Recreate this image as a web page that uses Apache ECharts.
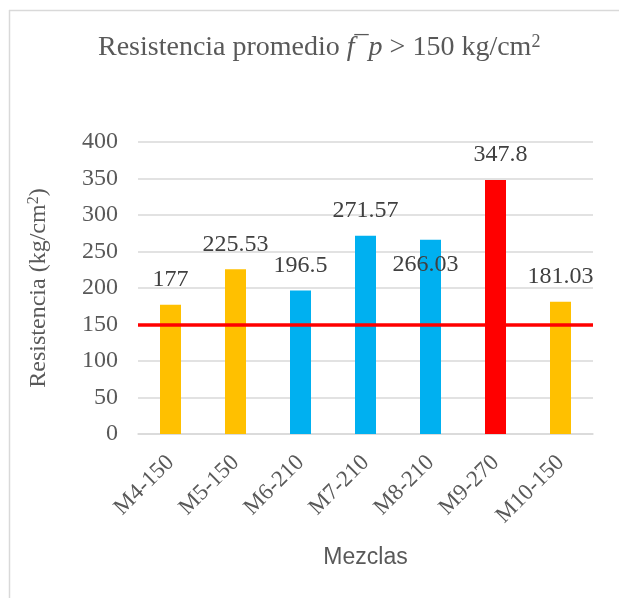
<!DOCTYPE html>
<html>
<head>
<meta charset="utf-8">
<script src="https://cdn.jsdelivr.net/npm/echarts@6/dist/echarts.min.js"></script>
<style>
html,body{margin:0;padding:0;background:#fff;}
#c{width:619px;height:598px;}
</style>
</head>
<body>
<div id="c"></div>
<script>
const categories = ['M4-150','M5-150','M6-210','M7-210','M8-210','M9-270','M10-150'];
const values = [177, 225.53, 196.5, 271.57, 266.03, 347.8, 181.03];
const barColors = ['#FFC000','#FFC000','#00B0F0','#00B0F0','#00B0F0','#FF0000','#FFC000'];
const yTicks = [0, 50, 100, 150, 200, 250, 300, 350, 400];
const threshold = 150;

const serif = '"Liberation Serif","Times New Roman",serif';
const chart = echarts.init(document.getElementById('c'), null, {renderer:'canvas'});

const data = values.map((v, i) => {
  const item = { value: v, itemStyle: { color: barColors[i] } };
  if (i === 4) {
    item.label = { position: 'insideTop', distance: 13, offset: [-5, 0] };
  }
  if (i === 5) {
    item.label = { offset: [5, 0] };
  }
  return item;
});

chart.setOption({
  animation: false,
  backgroundColor: '#fff',
  title: {
    text: 'Resistencia promedio {i|f}{m|¯}{i|p} > 150 kg/cm{s|2}',
    left: 93,
    top: 28,
    textStyle: {
      fontFamily: serif, fontSize: 28, fontWeight: 'normal', color: '#595959',
      rich: {
        i: { fontFamily: serif, fontSize: 28, fontStyle: 'italic', color: '#595959' },
        m: { fontFamily: serif, fontSize: 28, color: '#595959' },
        s: { fontFamily: serif, fontSize: 18, color: '#595959', verticalAlign: 'top', padding: [0,0,12,0] }
      }
    }
  },
  grid: { left: 138, right: 26, top: 142, bottom: 164 },
  xAxis: {
    type: 'category',
    data: categories,
    name: 'Mezclas',
    nameLocation: 'middle',
    nameGap: 112,
    nameTextStyle: { fontFamily: '"Liberation Sans",Arial,sans-serif', fontSize: 23, color: '#595959' },
    axisLine: { lineStyle: { color: '#d9d9d9', width: 1.5 } },
    axisTick: { show: false },
    axisLabel: { rotate: 45, margin: 25, fontFamily: serif, fontSize: 23, color: '#595959', interval: 0 }
  },
  yAxis: {
    type: 'value',
    min: yTicks[0], max: yTicks[yTicks.length-1], interval: 50,
    name: 'Resistencia (kg/cm{s|2})',
    nameLocation: 'middle',
    nameGap: 86,
    nameTextStyle: {
      fontFamily: serif, fontSize: 24, color: '#595959',
      rich: { s: { fontFamily: serif, fontSize: 16, color: '#595959', verticalAlign: 'top', padding: [0,0,10,0] } }
    },
    axisLine: { show: false },
    axisTick: { show: false },
    axisLabel: { margin: 20, fontFamily: serif, fontSize: 24, color: '#595959' },
    splitLine: { lineStyle: { color: '#d9d9d9', width: 1.5 } }
  },
  series: [{
    type: 'bar',
    data: data,
    barWidth: 21,
    label: {
      show: true, position: 'top', distance: 13,
      fontFamily: serif, fontSize: 24, color: '#404040'
    },
    markLine: {
      silent: true,
      symbol: 'none',
      label: { show: false },
      lineStyle: { color: '#FF0000', width: 3.5, type: 'solid' },
      data: [{ yAxis: threshold }]
    }
  }],
  graphic: [
    { type: 'line', shape: { x1: 9, y1: 10.5, x2: 619, y2: 10.5 }, style: { stroke: '#d9d9d9', lineWidth: 1.5 } },
    { type: 'line', shape: { x1: 9.5, y1: 10, x2: 9.5, y2: 598 }, style: { stroke: '#d9d9d9', lineWidth: 1.5 } }
  ]
});
</script>
</body>
</html>
